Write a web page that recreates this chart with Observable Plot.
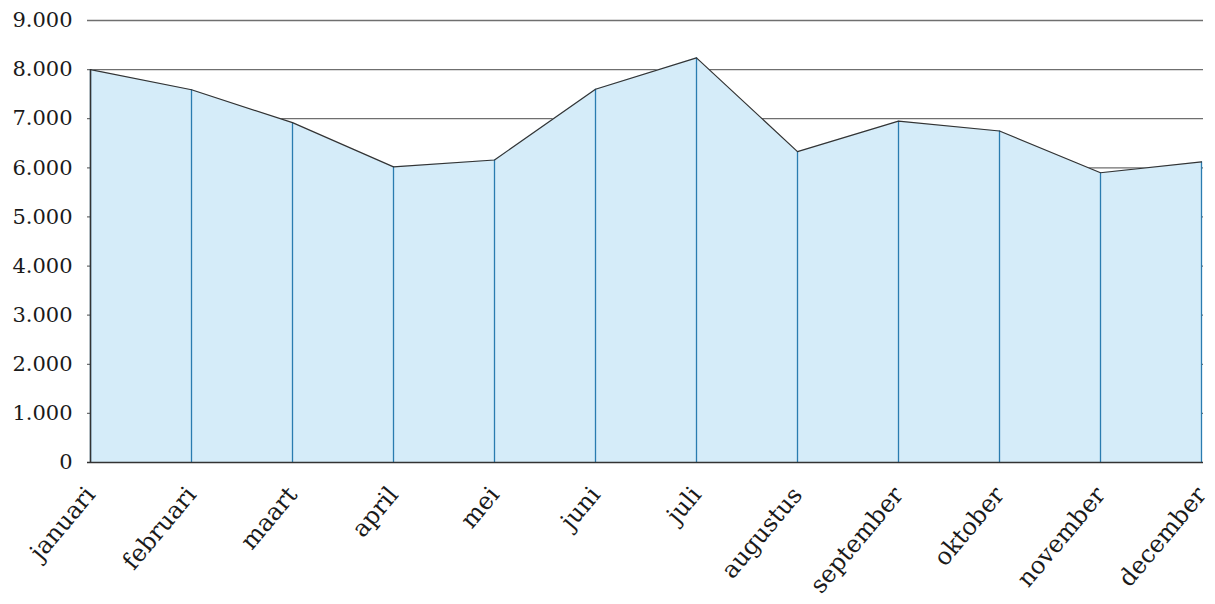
<!DOCTYPE html>
<html>
<head>
<meta charset="utf-8">
<script src="https://cdn.jsdelivr.net/npm/d3@7"></script>
<script src="https://cdn.jsdelivr.net/npm/@observablehq/plot@0.6"></script>
<style>
  html, body { margin: 0; padding: 0; background: #fff; }
  #chart svg { display: block; }
</style>
</head>
<body>
<div id="chart"></div>
<script>
const months = ["januari", "februari", "maart", "april", "mei", "juni", "juli", "augustus", "september", "oktober", "november", "december"];
const values = [8000, 7590, 6920, 6020, 6160, 7600, 8240, 6330, 6950, 6750, 5900, 6120];
const yTicks = [0, 1000, 2000, 3000, 4000, 5000, 6000, 7000, 8000, 9000];

const data = months.map((m, i) => ({month: m, value: values[i]}));
const nl = d3.formatLocale({decimal: ",", thousands: ".", grouping: [3], currency: ["€", ""]});
const fmt = nl.format(",d");

const chart = Plot.plot({
  width: 1215,
  height: 604,
  marginLeft: 87,
  marginRight: 12,
  marginTop: 20,
  marginBottom: 142,
  style: {fontFamily: "'DejaVu Serif', serif", fontSize: "21px", color: "#1a1a1a", background: "#fff"},
  x: {type: "point", domain: months, padding: 0, label: null},
  y: {domain: [0, 9000], label: null},
  marks: [
    Plot.ruleY(yTicks.slice(1), {stroke: "#6f6f6f", strokeWidth: 1.3}),
    Plot.areaY(data, {x: "month", y: "value", fill: "#d5ecf9"}),
    Plot.ruleX(data, {x: "month", y1: 0, y2: "value", stroke: "#2a7cb0", strokeWidth: 1.3}),
    Plot.ruleX(data, {filter: (d, i) => i === 0, x: "month", y1: 0, y2: "value", stroke: "#333", strokeWidth: 1.5}),
    Plot.lineY(data, {x: "month", y: "value", stroke: "#333", strokeWidth: 1.2}),
    Plot.ruleY([0], {stroke: "#333", strokeWidth: 1.5}),
    Plot.axisY({ticks: yTicks, tickSize: 0, tickPadding: 15, tickFormat: fmt, fontSize: 21, label: null}),
    Plot.axisX({tickSize: 0, tickPadding: 28, tickRotate: -50, fontSize: 24, label: null})
  ]
});
document.getElementById("chart").appendChild(chart);
</script>
</body>
</html>
